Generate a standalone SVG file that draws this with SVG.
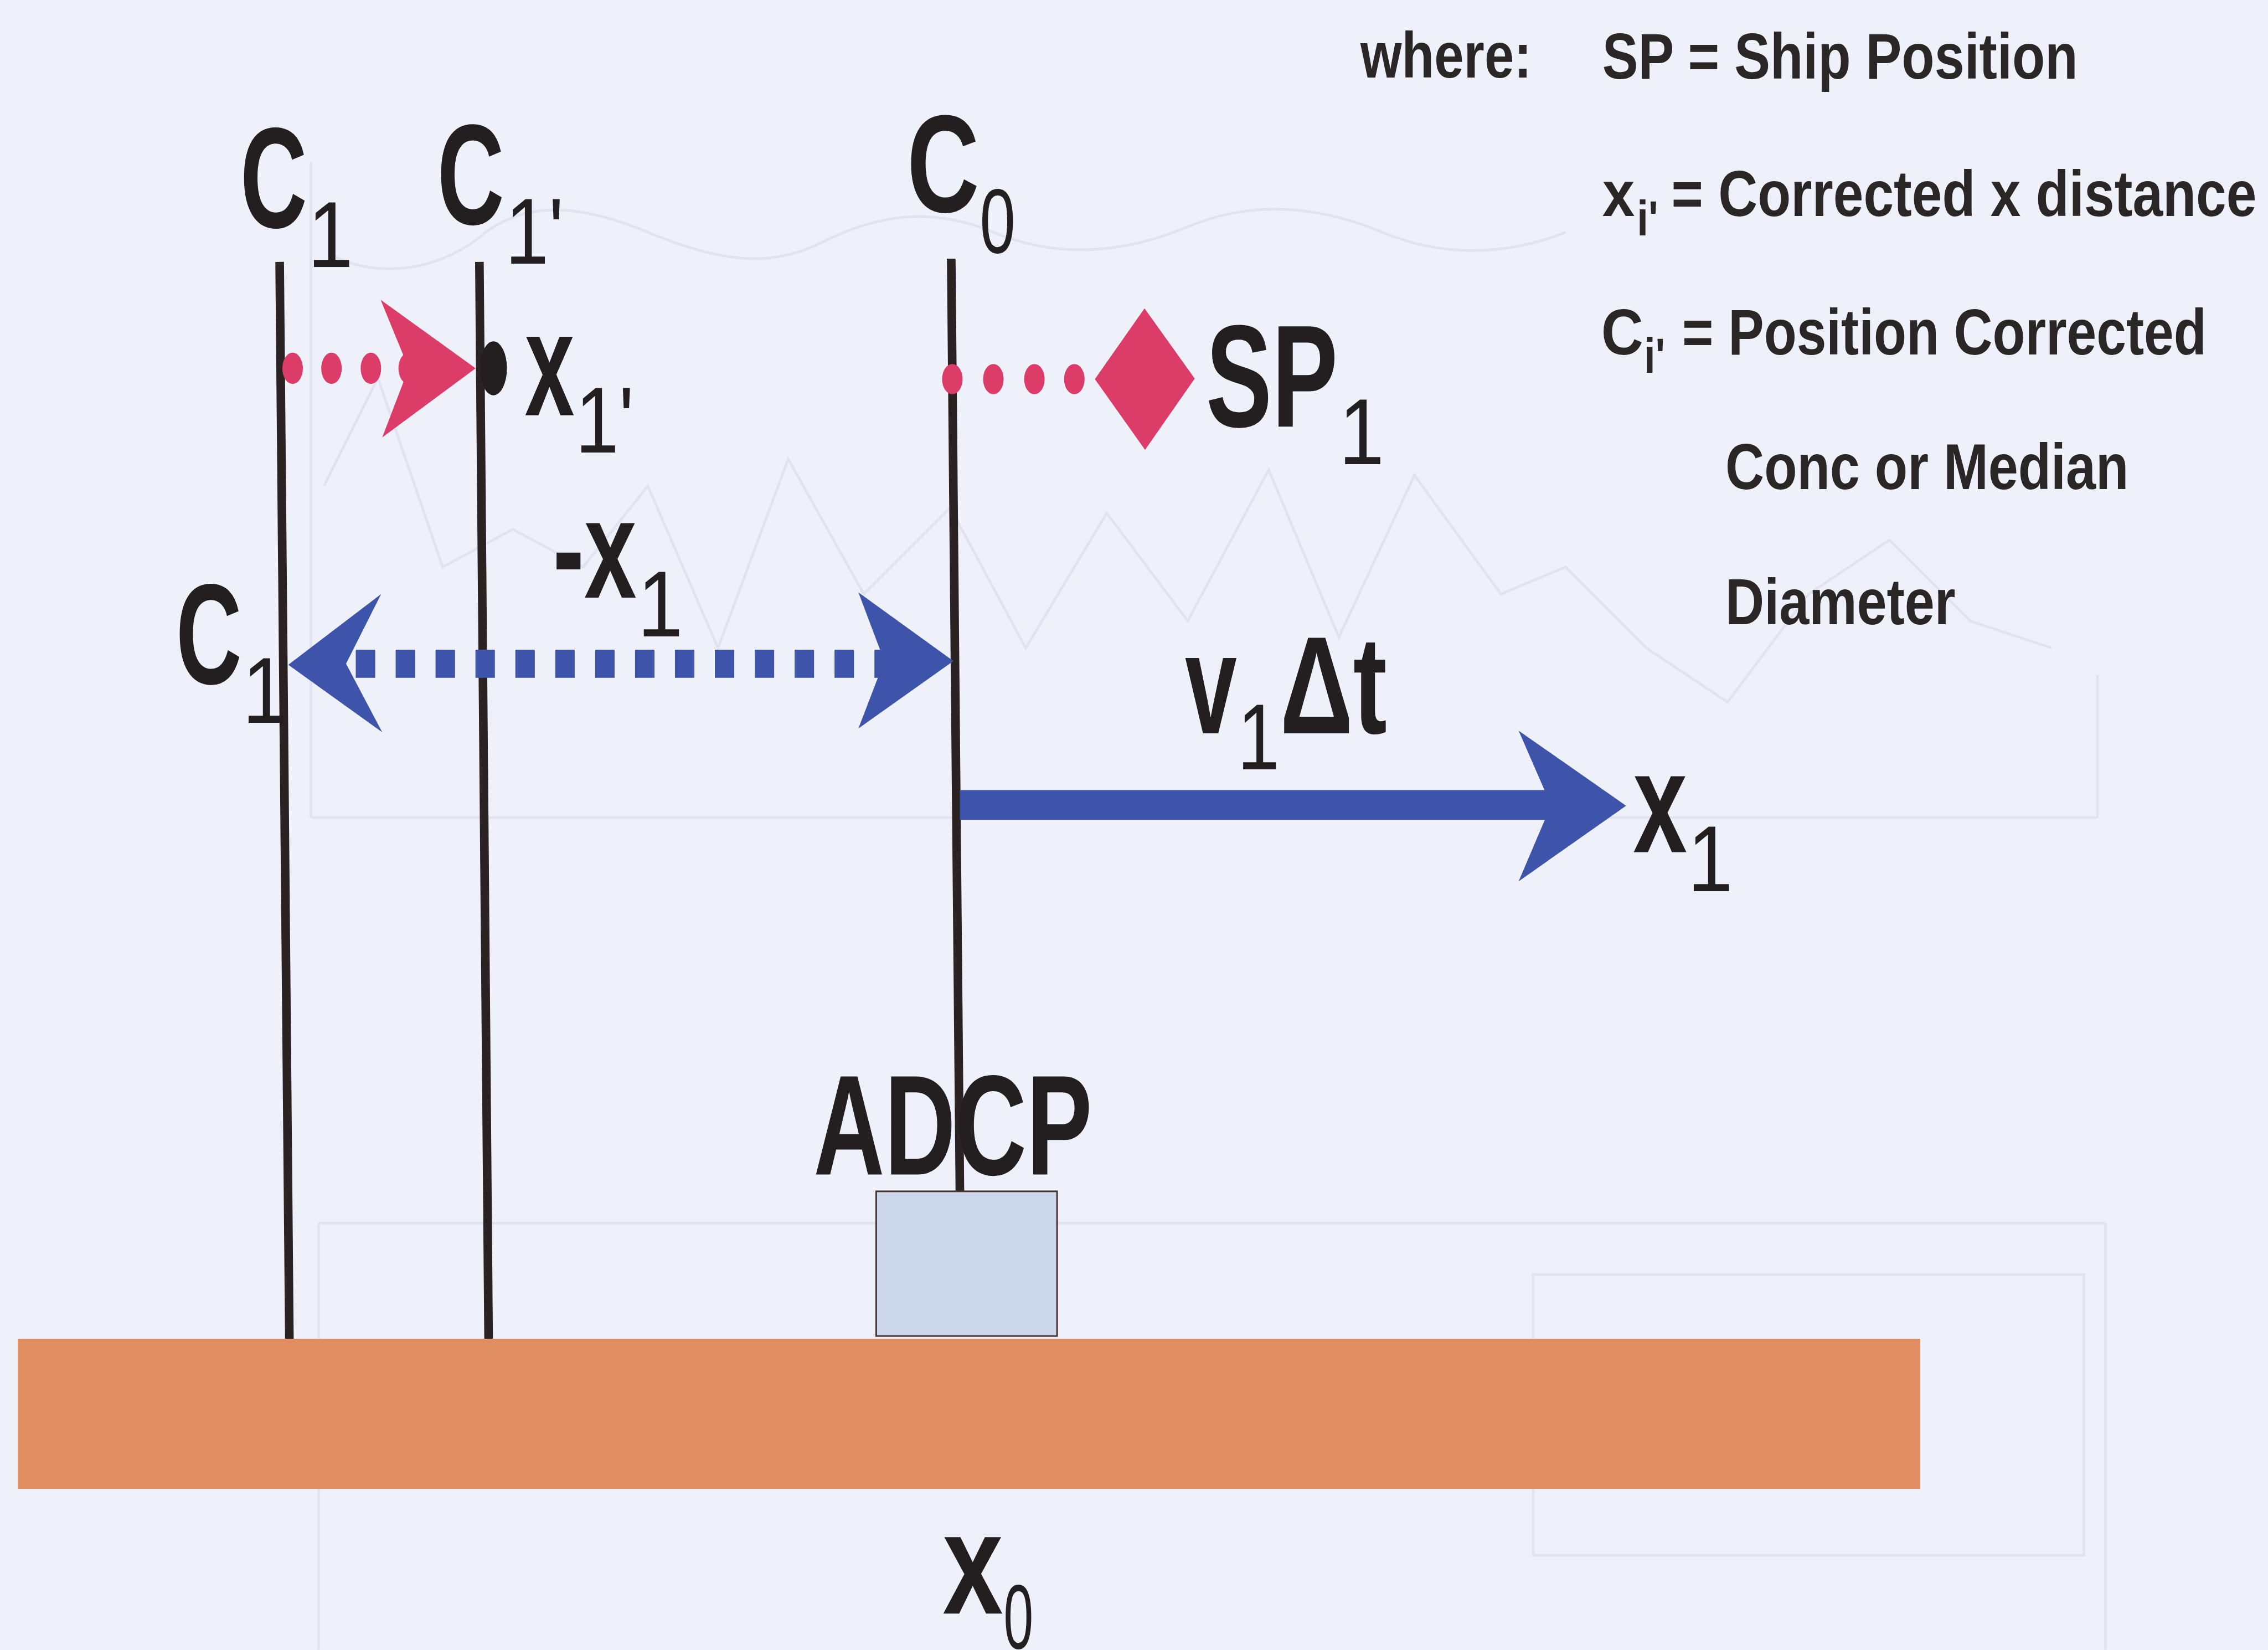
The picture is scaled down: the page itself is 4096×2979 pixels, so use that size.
<svg xmlns="http://www.w3.org/2000/svg" width="4096" height="2979" viewBox="0 0 4096 2979">
<defs>
<style>
.t{font-family:"Liberation Sans",Arial,sans-serif;fill:#231f20}
.b{font-weight:bold}
.r{font-weight:normal}
.leg{font-family:"Liberation Sans",Arial,sans-serif;font-weight:bold;font-size:120px;fill:#2a2626}
.legsub{font-family:"Liberation Sans",Arial,sans-serif;font-weight:bold;font-size:92px;fill:#2a2626}
.pole{stroke:#2b2222;stroke-width:16;fill:none;stroke-linecap:butt}
.pink{fill:#dc3d68}
.blue{fill:#3d54aa}
.ghost{fill:none;stroke:#e1e4f0;stroke-width:5}
</style>
</defs>
<rect x="0" y="0" width="4096" height="2979" fill="#eff1fa"/>
<g transform="scale(0.975)">
<g id="ghost-background">
<path class="ghost" d="M576 1514 L3885 1514 M576 1514 L576 300 M3885 1514 L3885 1250 M590 2265 L3900 2265 M590 2265 L590 3055 M3900 2265 L3900 3055 M2840 2360 L3860 2360 L3860 2880 L2840 2880 Z"/>
<path class="ghost" d="M610 470 C700 520 820 500 900 430 C980 370 1080 380 1200 430 C1320 480 1420 500 1520 450 C1620 400 1720 380 1840 430 C1960 480 2080 470 2200 420 C2320 370 2440 380 2560 430 C2680 480 2800 470 2900 430"/>
<path class="ghost" d="M600 900 L700 700 L820 1050 L950 980 L1080 1050 L1200 900 L1330 1200 L1460 850 L1600 1100 L1760 940 L1900 1200 L2050 950 L2200 1150 L2350 870 L2480 1180 L2620 880 L2780 1100 L2900 1050 L3050 1200 L3200 1300 L3350 1100 L3500 1000 L3650 1150 L3800 1200"/>
</g>
<g id="connectors">
<line class="pole" x1="518" y1="485" x2="536" y2="2479"/>
<line class="pole" x1="888" y1="485" x2="905" y2="2479"/>
<line class="pole" x1="1762" y1="479" x2="1778" y2="2206"/>
<g id="pink-arrow-1">
<ellipse class="pink" cx="542" cy="682" rx="19" ry="29"/>
<ellipse class="pink" cx="614" cy="682" rx="19" ry="29"/>
<ellipse class="pink" cx="687" cy="682" rx="19" ry="29"/>
<ellipse class="pink" cx="757" cy="682" rx="19" ry="29"/>
<polygon class="pink" points="705,555 881,682 708,810 757,682"/>
</g>
<g id="pink-arrow-2">
<ellipse class="pink" cx="1764" cy="702" rx="19" ry="28"/>
<ellipse class="pink" cx="1840" cy="702" rx="19" ry="28"/>
<ellipse class="pink" cx="1916" cy="702" rx="19" ry="28"/>
<ellipse class="pink" cx="1990" cy="702" rx="19" ry="28"/>
</g>
<g id="blue-dashed-arrow">
<line x1="659" y1="1229" x2="1640" y2="1229" stroke="#3d54aa" stroke-width="52" stroke-dasharray="36 37.9"/>
<polygon class="blue" points="534,1231 706,1100 641,1229 708,1356"/>
<polygon class="blue" points="1766,1224 1590,1097 1638,1224 1590,1349"/>
</g>
<g id="blue-solid-arrow">
<rect class="blue" x="1778" y="1463" width="1100" height="55"/>
<polygon class="blue" points="2813,1353 3012,1492 2813,1632 2873,1491"/>
</g>
</g>
<g id="node-x1prime-dot">
<ellipse cx="914" cy="682" rx="25" ry="50" fill="#231f20"/>
</g>
<g id="node-sp-diamond">
<polygon class="pink" points="2028,702 2120,571 2213,701 2121,833"/>
</g>
<g id="node-ground">
<rect x="33" y="2479" width="3524" height="278" fill="#e18d62"/>
</g>
<g id="node-adcp">
<rect x="1623" y="2206" width="335" height="268" fill="#cdd7ec" stroke="#4a3030" stroke-width="3"/>
<text class="t b" x="1507" y="2175" font-size="264" textLength="516" lengthAdjust="spacingAndGlyphs">ADCP</text>
</g>
<g id="label-c1-top">
<text class="t b" font-size="265"><tspan x="445" y="421" textLength="124" lengthAdjust="spacingAndGlyphs">C</tspan><tspan class="r" x="570" y="494" font-size="173" textLength="84" lengthAdjust="spacingAndGlyphs">1</tspan></text>
</g>
<g id="label-c1prime-top">
<text class="t b" font-size="265"><tspan x="810" y="415" textLength="124" lengthAdjust="spacingAndGlyphs">C</tspan><tspan class="r" x="936" y="488" font-size="173" textLength="108" lengthAdjust="spacingAndGlyphs">1'</tspan></text>
</g>
<g id="label-c0-top">
<text class="t b" font-size="258"><tspan x="1680" y="393" textLength="134" lengthAdjust="spacingAndGlyphs">C</tspan><tspan class="r" x="1815" y="468" font-size="169" textLength="66" lengthAdjust="spacingAndGlyphs">0</tspan></text>
</g>
<g id="label-c1-left">
<text class="t b" font-size="265"><tspan x="326" y="1266" textLength="122" lengthAdjust="spacingAndGlyphs">C</tspan><tspan class="r" x="449" y="1338" font-size="173" textLength="84" lengthAdjust="spacingAndGlyphs">1</tspan></text>
</g>
<g id="label-x1prime">
<text class="t b" font-size="275"><tspan x="972" y="769" textLength="92" lengthAdjust="spacingAndGlyphs">x</tspan><tspan class="r" x="1066" y="838" font-size="173" textLength="108" lengthAdjust="spacingAndGlyphs">1'</tspan></text>
</g>
<g id="label-sp1">
<text class="t b" font-size="270"><tspan x="2234" y="790" textLength="244" lengthAdjust="spacingAndGlyphs">SP</tspan><tspan class="r" x="2480" y="859" font-size="173" textLength="84" lengthAdjust="spacingAndGlyphs">1</tspan></text>
</g>
<g id="label-minus-x1">
<text class="t b" font-size="260"><tspan x="1024" y="1107" textLength="155" lengthAdjust="spacingAndGlyphs">-x</tspan><tspan class="r" x="1181" y="1178" font-size="173" textLength="84" lengthAdjust="spacingAndGlyphs">1</tspan></text>
</g>
<g id="label-v1dt">
<text class="t b" font-size="264"><tspan x="2195" y="1358" textLength="96" lengthAdjust="spacingAndGlyphs">v</tspan><tspan class="r" x="2292" y="1425" font-size="173" textLength="78" lengthAdjust="spacingAndGlyphs">1</tspan><tspan x="2371" y="1358" font-size="258" textLength="198" lengthAdjust="spacingAndGlyphs">Δt</tspan></text>
</g>
<g id="label-x1">
<text class="t b" font-size="266"><tspan x="3025" y="1578" textLength="100" lengthAdjust="spacingAndGlyphs">x</tspan><tspan class="r" x="3126" y="1650" font-size="173" textLength="84" lengthAdjust="spacingAndGlyphs">1</tspan></text>
</g>
<g id="label-x0">
<text class="t b" font-size="268"><tspan x="1746" y="2988" textLength="112" lengthAdjust="spacingAndGlyphs">x</tspan><tspan class="r" x="1859" y="3052" font-size="170" textLength="55" lengthAdjust="spacingAndGlyphs">0</tspan></text>
</g>
<g id="legend">
<text class="leg" transform="translate(2520,144) scale(0.82,1)" x="0" y="0">where:</text>
<text class="leg" transform="translate(2968,146) scale(0.83,1)" x="0" y="0">SP = Ship Position</text>
<text class="leg" transform="translate(2968,400) scale(0.9,1)" x="0" y="0">x</text>
<text class="legsub" transform="translate(3032,436) scale(0.83,1)" x="0" y="0">i'</text>
<text class="leg" transform="translate(3096,400) scale(0.84,1)" x="0" y="0">= Corrected x distance</text>
<text class="leg" transform="translate(2966,656) scale(0.9,1)" x="0" y="0">C</text>
<text class="legsub" transform="translate(3045,690) scale(0.83,1)" x="0" y="0">i'</text>
<text class="leg" transform="translate(3116,656) scale(0.825,1)" x="0" y="0">= Position Corrected</text>
<text class="leg" transform="translate(3196,906) scale(0.83,1)" x="0" y="0">Conc or Median</text>
<text class="leg" transform="translate(3196,1156) scale(0.83,1)" x="0" y="0">Diameter</text>
</g>
</g>
</svg>
